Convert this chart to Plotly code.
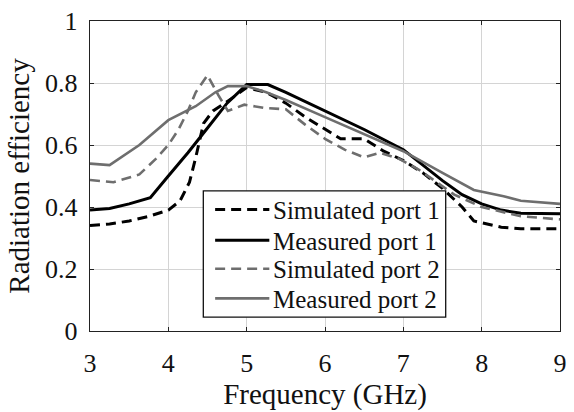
import plotly.graph_objects as go

# Radiation efficiency vs frequency for the two ports
sim_p1_f = [3, 3.25, 3.5, 3.75, 4.0, 4.15, 4.27, 4.35, 4.45, 4.57, 4.75, 5.0, 5.25, 5.5,
            5.75, 6.0, 6.2, 6.5, 6.75, 7.0, 7.25, 7.5, 7.75, 7.9, 8.25, 8.5, 9]
sim_p1_v = [0.34, 0.345, 0.355, 0.37, 0.39, 0.42, 0.48, 0.56, 0.67, 0.71, 0.74, 0.785, 0.77, 0.735,
            0.69, 0.65, 0.62, 0.62, 0.58, 0.55, 0.51, 0.46, 0.40, 0.355, 0.335, 0.33, 0.33]

meas_p1_f = [3, 3.25, 3.5, 3.77, 4.0, 4.25, 4.5, 4.75, 5.0, 5.27, 5.5, 6.0, 6.5, 7.0,
             7.25, 7.5, 7.75, 8.0, 8.25, 8.5, 9]
meas_p1_v = [0.39, 0.395, 0.41, 0.43, 0.50, 0.575, 0.655, 0.735, 0.795, 0.795, 0.77, 0.71, 0.65, 0.585,
             0.535, 0.485, 0.44, 0.41, 0.39, 0.38, 0.378]

sim_p2_f = [3, 3.3, 3.63, 3.84, 4.0, 4.13, 4.25, 4.35, 4.5, 4.64, 4.76, 4.97, 5.22, 5.5,
            5.75, 6.0, 6.25, 6.5, 6.7, 6.95, 7.2, 7.45, 7.65, 8.0, 8.5, 9]
sim_p2_v = [0.487, 0.48, 0.505, 0.555, 0.60, 0.65, 0.71, 0.77, 0.825, 0.76, 0.71, 0.73, 0.72, 0.715,
            0.665, 0.62, 0.585, 0.56, 0.575, 0.555, 0.52, 0.475, 0.44, 0.40, 0.37, 0.36]

meas_p2_f = [3, 3.25, 3.63, 4.0, 4.35, 4.6, 4.76, 5.0, 5.25, 5.5, 6.0, 6.5, 7.0,
             7.5, 7.9, 8.28, 8.5, 9]
meas_p2_v = [0.54, 0.535, 0.60, 0.68, 0.725, 0.77, 0.79, 0.79, 0.77, 0.745, 0.69, 0.635, 0.58,
             0.51, 0.455, 0.435, 0.42, 0.41]

legend_labels = ["Simulated port 1", "Measured port 1", "Simulated port 2", "Measured port 2"]
x_ticks = [3, 4, 5, 6, 7, 8, 9]
y_ticks = [0, 0.2, 0.4, 0.6, 0.8, 1]

BLACK = "#000000"
GRAY = "#6e6e6e"
DASH = "10px,6px"
FONT = "Liberation Serif"

styles = [
    (sim_p1_f, sim_p1_v, BLACK, DASH, 3),
    (meas_p1_f, meas_p1_v, BLACK, "solid", 3),
    (sim_p2_f, sim_p2_v, GRAY, DASH, 2.6),
    (meas_p2_f, meas_p2_v, GRAY, "solid", 2.6),
]

fig = go.Figure()
for (fx, fy, col, dash, w), name in zip(styles, legend_labels):
    fig.add_trace(go.Scatter(x=fx, y=fy, mode="lines", name=name,
                             line=dict(color=col, dash=dash, width=w),
                             showlegend=False))

W, H = 574, 412
ML, MR, MT, MB = 90, 7, 17, 81
pw, ph = W - ML - MR, H - MT - MB


def px(xp):
    return (xp - ML) / pw


def py(yp):
    return (H - MB - yp) / ph


# Boxed legend in the lower middle of the axes
shapes = [dict(type="rect", xref="paper", yref="paper",
               x0=px(205), x1=px(451), y0=py(317), y1=py(189),
               line=dict(color="#111", width=1.3), fillcolor="white", layer="above")]
annotations = []
rows = [208, 239, 268, 298]
for (fx, fy, col, dash, w), name, ry in zip(styles, legend_labels, rows):
    shapes.append(dict(type="line", xref="paper", yref="paper",
                       x0=px(217), x1=px(272), y0=py(ry), y1=py(ry),
                       line=dict(color=col, dash=dash, width=w), layer="above"))
    annotations.append(dict(xref="paper", yref="paper", x=px(274), y=py(ry + 1),
                            text=name, showarrow=False, xanchor="left", yanchor="middle",
                            font=dict(family=FONT, size=25, color="#111")))

axis_common = dict(showgrid=True, gridcolor="#d4d4d4", gridwidth=1,
                   showline=True, linecolor="#222", linewidth=1.4, mirror="ticks",
                   ticks="inside", ticklen=4, tickcolor="#222", zeroline=False,
                   tickfont=dict(family=FONT, size=26, color="#111"))

fig.update_layout(
    width=W, height=H,
    margin=dict(l=ML, r=MR, t=MT, b=MB),
    paper_bgcolor="white", plot_bgcolor="white",
    font=dict(family=FONT),
    shapes=shapes, annotations=annotations,
    xaxis=dict(range=[3, 9], tickvals=x_ticks, ticklabelstandoff=9,
               title=dict(text="Frequency (GHz)", font=dict(family=FONT, size=29, color="#111"),
                          standoff=6),
               **axis_common),
    yaxis=dict(range=[0, 1], tickvals=y_ticks, ticklabelstandoff=6,
               title=dict(text="Radiation efficiency", font=dict(family=FONT, size=29, color="#111"),
                          standoff=6),
               **axis_common),
)

fig.write_html("out.html")
